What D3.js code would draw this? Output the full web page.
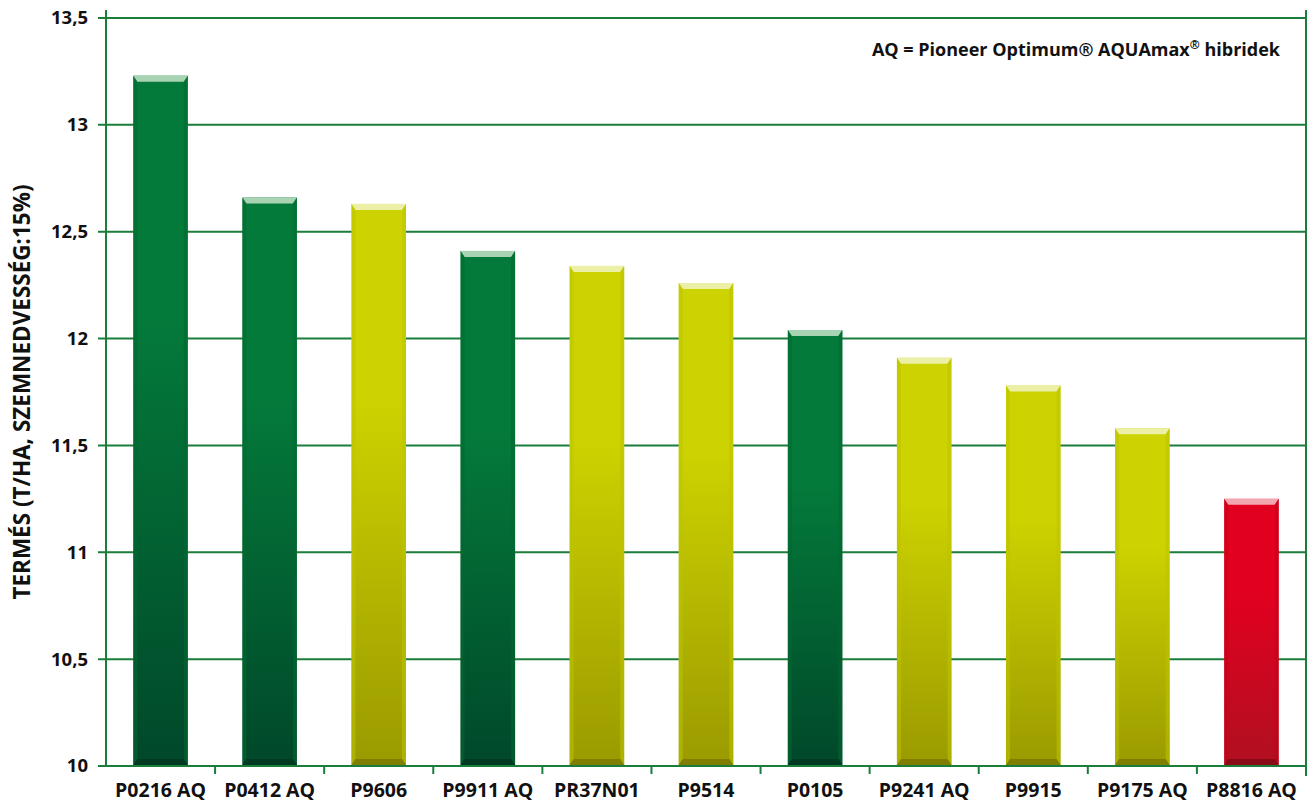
<!DOCTYPE html>
<html><head><meta charset="utf-8">
<script src="https://cdn.jsdelivr.net/npm/d3@7"></script>
<style>body{margin:0;background:#fff}svg{display:block}text{font-family:"Open Sans",sans-serif;font-weight:700;fill:#111}</style>
</head><body><svg id="c" width="1314" height="805"></svg>
<script>
const categories = ["P0216 AQ","P0412 AQ","P9606","P9911 AQ","PR37N01","P9514","P0105","P9241 AQ","P9915","P9175 AQ","P8816 AQ"];
const values = [13.23,12.66,12.63,12.41,12.34,12.26,12.04,11.91,11.78,11.58,11.25];
const groups = ["green","green","yellow","green","yellow","yellow","green","yellow","yellow","yellow","red"];
const yTicks = [10,10.5,11,11.5,12,12.5,13,13.5];
const yTitle = "TERMÉS (T/HA, SZEMNEDVESSÉG:15%)";
const noteParts = [["AQ = Pioneer Optimum® AQUAmax",false],["®",true],[" hibridek",false]];

const palette = {
  green:{top:"#047a3a",bot:"#00482a",bevTop:"#a9d4b3",bevBot:"#003a20",side:"#036830"},
  yellow:{top:"#cdd300",bot:"#9a9a00",bevTop:"#ecf0a6",bevBot:"#7f7e00",side:"#bcc200"},
  red:{top:"#e2001f",bot:"#b01020",bevTop:"#f2a6b0",bevBot:"#8a0a18",side:"#c80018"}
};
const svg = d3.select("#c");
const L=106, R=1306, T=18, B=766;
const x = d3.scaleBand().domain(categories).range([L,R]).paddingInner(0.5).paddingOuter(0.25);
const y = d3.scaleLinear().domain([10,13.5]).range([B,T]);
const gc="#1b7d3a";

const defs = svg.append("defs");
Object.entries(palette).forEach(([k,p])=>{
  const g=defs.append("linearGradient").attr("id","g-"+k).attr("x1",0).attr("y1",0).attr("x2",0).attr("y2",1);
  g.append("stop").attr("offset","0%").attr("stop-color",p.top);
  g.append("stop").attr("offset","35%").attr("stop-color",p.top);
  g.append("stop").attr("offset","100%").attr("stop-color",p.bot);
});

// grid
svg.append("g").selectAll("line").data(yTicks).join("line")
  .attr("x1",L-8).attr("x2",R).attr("y1",d=>y(d)).attr("y2",d=>y(d))
  .attr("stroke",gc).attr("stroke-width",2);
// y labels
svg.append("g").selectAll("text").data(yTicks).join("text")
  .attr("x",88).attr("y",d=>y(d)).attr("dy","0.35em").attr("text-anchor","end")
  .attr("font-size",18.5).text(d=>d3.format("")(d).replace(".",","));
// axes lines
svg.append("line").attr("x1",L).attr("x2",L).attr("y1",10).attr("y2",B).attr("stroke",gc).attr("stroke-width",2);
svg.append("line").attr("x1",R).attr("x2",R).attr("y1",10).attr("y2",776).attr("stroke",gc).attr("stroke-width",2);
// x ticks at band boundaries
const step = x.step();
svg.append("g").selectAll("line").data(categories.slice(1)).join("line")
  .attr("x1",c=>x(c)-(step-x.bandwidth())/2).attr("x2",c=>x(c)-(step-x.bandwidth())/2)
  .attr("y1",B).attr("y2",B+8).attr("stroke",gc).attr("stroke-width",2);

// bars
const bars = svg.append("g").selectAll("g").data(categories).join("g");
bars.each(function(c,i){
  const g=d3.select(this), p=palette[groups[i]];
  const x0=x(c), w=x.bandwidth(), y0=y(values[i]), y1=y(10)-1, h=y1-y0;
  const bt=6, bs=4, bb=6;
  g.append("rect").attr("x",x0).attr("y",y0).attr("width",w).attr("height",h).attr("fill",`url(#g-${groups[i]})`);
  g.append("path").attr("d",`M${x0},${y0}L${x0+w},${y0}L${x0+w-bs},${y0+bt}L${x0+bs},${y0+bt}Z`).attr("fill",p.bevTop);
  g.append("path").attr("d",`M${x0},${y0}L${x0+bs},${y0+bt}L${x0+bs},${y1-bb}L${x0},${y1}Z`).attr("fill",p.side).attr("opacity",0.55);
  g.append("path").attr("d",`M${x0+w},${y0}L${x0+w-bs},${y0+bt}L${x0+w-bs},${y1-bb}L${x0+w},${y1}Z`).attr("fill",p.side).attr("opacity",0.55);
  g.append("path").attr("d",`M${x0},${y1}L${x0+bs},${y1-bb}L${x0+w-bs},${y1-bb}L${x0+w},${y1}Z`).attr("fill",p.bevBot);
});
// bottom axis line on top
svg.append("line").attr("x1",L).attr("x2",R).attr("y1",B).attr("y2",B).attr("stroke",gc).attr("stroke-width",2);

// x labels
svg.append("g").selectAll("text").data(categories).join("text")
  .attr("x",c=>x(c)+x.bandwidth()/2).attr("y",790).attr("dy","0.35em").attr("text-anchor","middle")
  .attr("font-size",19.5).text(c=>c);

// y title
svg.append("text").attr("transform",`translate(30,${(T+B)/2}) rotate(-90)`).attr("text-anchor","middle")
  .attr("font-size",22.5).text(yTitle);
// note
const nt = svg.append("text").attr("x",1280).attr("y",56).attr("text-anchor","end").attr("font-size",18);
nt.selectAll("tspan").data(noteParts).join("tspan")
  .attr("font-size",d=>d[1]?12:18).attr("dy",(d,i)=>d[1]?-7:(i>0?7:0)).text(d=>d[0]);
</script></body></html>
